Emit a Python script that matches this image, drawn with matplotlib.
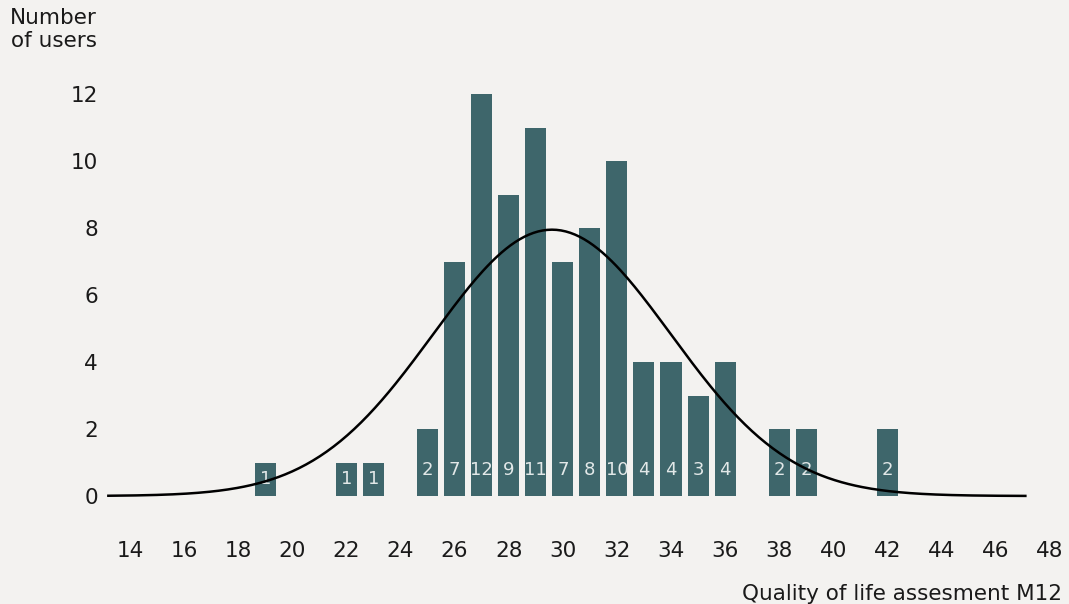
import numpy as np
import matplotlib
matplotlib.use("Agg")
import matplotlib.pyplot as plt

# histogram of scores (score -> number of users)
scores = [19, 22, 23, 25, 26, 27, 28, 29, 30, 31, 32, 33, 34, 35, 36, 38, 39, 42]
users = [1, 1, 1, 2, 7, 12, 9, 11, 7, 8, 10, 4, 4, 3, 4, 2, 2, 2]

# fitted normal curve
curve_mean = 29.6
curve_sd = 4.4
curve_peak = 7.95
curve_start, curve_end = 13.2, 47.1

x_ticks = list(range(14, 49, 2))
y_ticks = [0, 2, 4, 6, 8, 10, 12]

bg = "#F3F2F0"
bar_color = "#3E666B"
label_color = "#E2E8E8"

plt.rcParams["font.family"] = ["DejaVu Sans"]

W, H = 1069, 604
fig = plt.figure(figsize=(W / 100, H / 100), dpi=100, facecolor=bg)

# axes box in pixels (left, top, right, bottom)
left_px, top_px, right_px, bot_px = 105, 75, 1060, 502
ax = fig.add_axes([left_px / W, 1 - bot_px / H, (right_px - left_px) / W, (bot_px - top_px) / H])
ax.set_facecolor(bg)

# x: 14 -> 130px, 27.05 px per unit ; y: 0 -> 496px, 33.5 px per unit
xs = 27.05
ys = 33.5
ax.set_xlim(14 - (130 - left_px) / xs, 14 + (right_px - 130) / xs)
ax.set_ylim(-(bot_px - 496) / ys, (496 - top_px) / ys)

ax.bar(scores, users, width=0.78, color=bar_color, zorder=2)

for s, u in zip(scores, users):
    ax.text(s, min(u / 2, 0.78), str(u), ha="center", va="center",
            color=label_color, fontsize=13, zorder=3)

xc = np.linspace(curve_start, curve_end, 400)
yc = curve_peak * np.exp(-0.5 * ((xc - curve_mean) / curve_sd) ** 2)
ax.plot(xc, yc, color="black", lw=1.8, zorder=4)

for sp in ax.spines.values():
    sp.set_visible(False)
ax.set_xticks(x_ticks)
ax.set_yticks(y_ticks)
ax.tick_params(axis="both", length=0, labelsize=15.5, colors="#1a1a1a")
ax.tick_params(axis="x", pad=28)
ax.tick_params(axis="y", pad=5)

fig.text(97 / W, 1 - 8 / H, "Number\nof users", ha="right", va="top",
         multialignment="right", fontsize=15.5, color="#1a1a1a", linespacing=1.2)
fig.text(1062 / W, 1 - 594 / H, "Quality of life assesment M12", ha="right",
         va="center", fontsize=15.5, color="#1a1a1a")

fig.savefig("out.png", dpi=100, facecolor=bg)
